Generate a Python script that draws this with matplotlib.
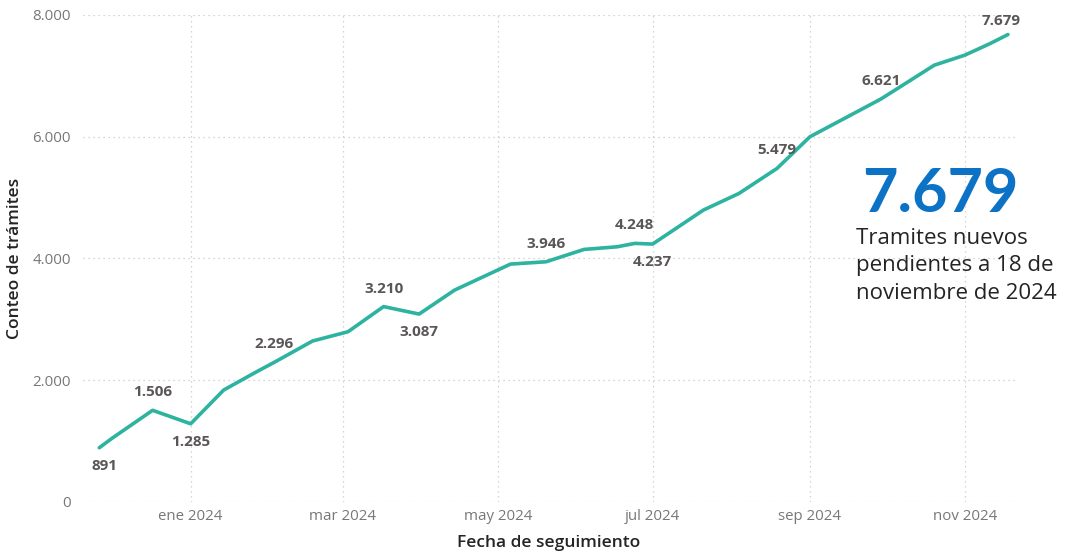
import matplotlib
matplotlib.use("Agg")
import matplotlib.pyplot as plt
import pandas as pd

dates = ["2023-11-26", "2023-12-01", "2023-12-17", "2024-01-01", "2024-01-14",
         "2024-01-27", "2024-02-03", "2024-02-18", "2024-03-03", "2024-03-17",
         "2024-03-31", "2024-04-14", "2024-05-06", "2024-05-20", "2024-06-04",
         "2024-06-17", "2024-06-24", "2024-07-01", "2024-07-21", "2024-08-04",
         "2024-08-19", "2024-09-01", "2024-09-29", "2024-10-20", "2024-11-01",
         "2024-11-11", "2024-11-18"]
values = [891, 1046, 1506, 1285, 1839, 2140, 2296, 2644, 2797, 3210,
          3087, 3481, 3908, 3946, 4149, 4192, 4248, 4237, 4795, 5068,
          5479, 6000, 6621, 7176, 7340, 7531, 7679]

# labelled points: (date, value, position)
label_dates = ["2023-11-26", "2023-12-17", "2024-01-01", "2024-02-03", "2024-03-17",
               "2024-03-31", "2024-05-20", "2024-06-24", "2024-07-01", "2024-08-19",
               "2024-09-29", "2024-11-18"]
label_values = [891, 1506, 1285, 2296, 3210, 3087, 3946, 4248, 4237, 5479, 6621, 7679]
label_pos = ["below", "above", "below", "above", "above", "below", "above",
             "above", "below", "above", "above", "above"]

x_ticks = ["2024-01-01", "2024-03-01", "2024-05-01", "2024-07-01", "2024-09-01", "2024-11-01"]
x_tick_labels = ["ene 2024", "mar 2024", "may 2024", "jul 2024", "sep 2024", "nov 2024"]
y_ticks = [0, 2000, 4000, 6000, 8000]
y_tick_labels = ["0", "2.000", "4.000", "6.000", "8.000"]

kpi_value = "7.679"
kpi_text = "Tramites nuevos\npendientes a 18 de\nnoviembre de 2024"

plt.rcParams['font.family'] = ['Open Sans', 'DejaVu Sans']

fig = plt.figure(figsize=(10.67, 5.55), dpi=100)
ax = fig.add_axes([0.078, 0.0955, 0.873, 0.8775])

x = pd.to_datetime(dates)
ax.plot(x, values, color="#2DB3A0", linewidth=2.6, solid_joinstyle="round",
        solid_capstyle="round", zorder=3)

ax.set_ylim(0, 8000)
ax.set_xlim(pd.Timestamp("2023-11-19 16:00"), pd.Timestamp("2024-11-20 16:00"))

ax.set_yticks(y_ticks)
ax.set_yticklabels(y_tick_labels)
ax.set_xticks(pd.to_datetime(x_ticks))
ax.set_xticklabels(x_tick_labels)
ax.tick_params(axis="both", length=0, labelsize=10.8, labelcolor="#777777")
ax.tick_params(axis="y", pad=9)
ax.tick_params(axis="x", pad=5)

ax.grid(True, color="#C8C8C8", linestyle=(0, (1, 3)), linewidth=0.9)
for s in ax.spines.values():
    s.set_visible(False)

ax.set_ylabel("Conteo de trámites", fontsize=12.5, color="#252423", fontweight="semibold", labelpad=7)
ax.set_xlabel("Fecha de seguimiento", fontsize=12.5, color="#252423", fontweight="semibold", labelpad=8)

for d, v, p in zip(label_dates, label_values, label_pos):
    txt = f"{v:,}".replace(",", ".")
    dy = 13 if p == "above" else -13
    dx = 0
    if v == 891:
        dx = 4
    if v == 7679:
        dx = -5
        dy = 10
    ax.annotate(txt, (pd.Timestamp(d), v), xytext=(dx, dy), textcoords="offset points",
                ha="center", va="center", fontsize=11, fontweight="bold",
                color="#5A5656", zorder=4)

fig.text(0.881, 0.650, kpi_value, fontsize=44, fontweight="bold", color="#0B72C6",
         ha="center", va="center", family=["Lato", "DejaVu Sans"])
fig.text(0.802, 0.590, kpi_text, fontsize=16, color="#252423", ha="left", va="top",
         linespacing=1.42)

fig.savefig("out.png", dpi=100)
